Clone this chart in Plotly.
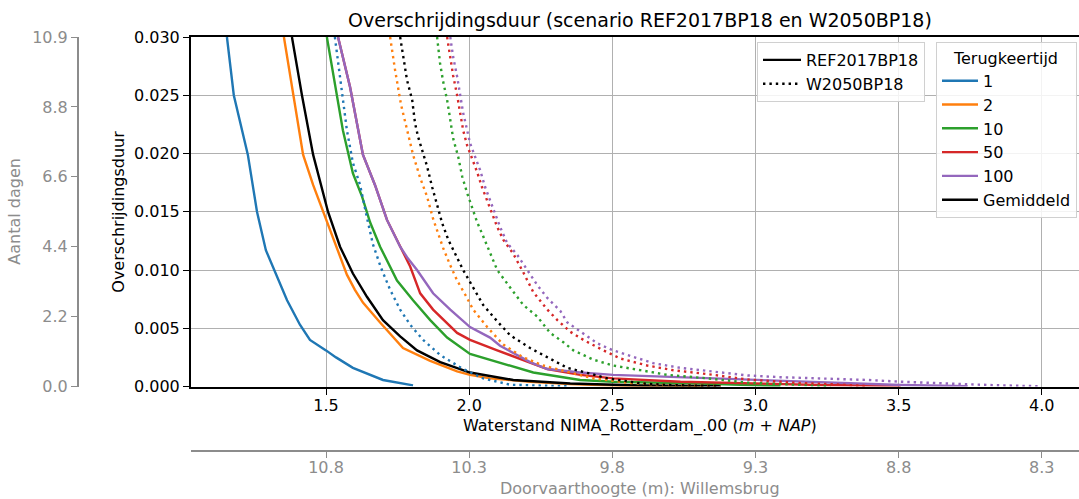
import plotly.graph_objects as go

# ---------------- data ----------------
# REF2017BP18 (solid lines)
ref_rp1_x = [1.154, 1.178, 1.227, 1.259, 1.290, 1.325, 1.364, 1.409, 1.444, 1.500, 1.535, 1.594, 1.699, 1.804]
ref_rp1_y = [0.0300, 0.0250, 0.0199, 0.0150, 0.0117, 0.0096, 0.0074, 0.0053, 0.0040, 0.0031, 0.0025, 0.0016, 0.00056, 0.0001]

ref_rp2_x = [1.353, 1.385, 1.420, 1.455, 1.490, 1.514, 1.549, 1.573, 1.601, 1.629, 1.689, 1.769, 1.864, 1.958, 2.003,
             2.073, 2.213, 2.353, 2.528, 2.808]
ref_rp2_y = [0.0300, 0.0250, 0.0199, 0.0173, 0.0150, 0.0135, 0.0113, 0.0096, 0.0083, 0.0072, 0.0055, 0.0033, 0.0022, 0.0013,
             0.0010, 0.0007, 0.0004, 0.0002, 0.00007, 0.00002]

ref_rp10_x = [1.503, 1.538, 1.559, 1.594, 1.626, 1.654, 1.689, 1.748, 1.804, 1.864, 1.923, 2.003, 2.098, 2.224, 2.388,
              2.503, 2.808, 3.087]
ref_rp10_y = [0.0300, 0.0249, 0.0220, 0.0183, 0.0163, 0.0141, 0.0120, 0.0091, 0.0074, 0.0057, 0.0042, 0.0028, 0.0021,
              0.0012, 0.00056, 0.00041, 0.00026, 0.00004]

ref_rp50_x = [1.542, 1.584, 1.629, 1.671, 1.713, 1.759, 1.794, 1.829, 1.874, 1.958, 2.003, 2.098, 2.189, 2.273, 2.388,
              2.503, 2.738, 2.972, 3.227, 3.507]
ref_rp50_y = [0.0300, 0.0257, 0.0199, 0.0173, 0.0143, 0.0120, 0.0103, 0.0080, 0.0066, 0.0046, 0.0040, 0.0031, 0.0023,
              0.0015, 0.0010, 0.0007, 0.00041, 0.00027, 0.00013, 0.00004]

ref_rp100_x = [1.542, 1.584, 1.629, 1.671, 1.713, 1.759, 1.783, 1.818, 1.874, 1.934, 2.003, 2.073, 2.108, 2.154, 2.213,
               2.273, 2.388, 2.503, 2.738, 2.972, 3.262, 3.507, 3.741]
ref_rp100_y = [0.0300, 0.0257, 0.0199, 0.0173, 0.0143, 0.0120, 0.0111, 0.0100, 0.0080, 0.0066, 0.0051, 0.0042, 0.0035,
               0.0029, 0.0021, 0.0015, 0.0012, 0.0010, 0.0008, 0.00056, 0.00034, 0.00013, 0.00002]

ref_gem_x = [1.381, 1.416, 1.455, 1.479, 1.507, 1.549, 1.594, 1.643, 1.699, 1.759, 1.818, 1.899, 2.003, 2.154, 2.353,
             2.598, 2.878]
ref_gem_y = [0.0300, 0.0250, 0.0199, 0.0177, 0.0150, 0.0120, 0.0097, 0.0077, 0.0057, 0.0043, 0.0031, 0.0021, 0.0012,
             0.00056, 0.00026, 0.00009, 0.00003]

# W2050BP18 (dotted lines)
w50_rp1_x = [1.531, 1.552, 1.573, 1.594, 1.619, 1.643, 1.664, 1.692, 1.724, 1.759, 1.794, 1.839, 1.899, 1.979, 2.049,
             2.143, 2.248, 2.353]
w50_rp1_y = [0.0300, 0.0259, 0.0220, 0.0192, 0.0173, 0.0145, 0.0122, 0.0102, 0.0083, 0.0066, 0.0053, 0.0040, 0.0027,
             0.0015, 0.0007, 0.00015, 0.00005, 0.00001]

w50_rp2_x = [1.724, 1.741, 1.762, 1.783, 1.804, 1.829, 1.853, 1.874, 1.909, 1.934, 1.958, 1.986, 2.014, 2.063, 2.119,
             2.189, 2.259, 2.336, 2.434, 2.563, 2.678, 2.878]
w50_rp2_y = [0.0300, 0.0272, 0.0242, 0.0220, 0.0199, 0.0179, 0.0163, 0.0144, 0.0119, 0.0104, 0.0091, 0.0079, 0.0066,
             0.0051, 0.0036, 0.0025, 0.0018, 0.0013, 0.0007, 0.0003, 0.00013, 0.00003]

w50_rp10_x = [1.888, 1.898, 1.909, 1.923, 1.934, 1.944, 1.962, 1.976, 1.993, 2.010, 2.028, 2.049, 2.073, 2.098, 2.143,
              2.189, 2.238, 2.283, 2.329, 2.364, 2.434, 2.503, 2.598, 2.692, 2.832, 2.972, 3.087, 3.262]
w50_rp10_y = [0.0300, 0.0278, 0.0262, 0.0246, 0.0229, 0.0213, 0.0197, 0.0180, 0.0166, 0.0154, 0.0141, 0.0129, 0.0115,
              0.0100, 0.0085, 0.0070, 0.0060, 0.0046, 0.0038, 0.0031, 0.0023, 0.0018, 0.0014, 0.0010, 0.0007, 0.00033,
              0.00021, 0.00004]

w50_rp50_x = [1.923, 1.934, 1.944, 1.958, 1.969, 1.979, 1.993, 2.010, 2.028, 2.045, 2.063, 2.080, 2.098, 2.119, 2.154,
              2.189, 2.224, 2.273, 2.308, 2.353, 2.399, 2.469, 2.528, 2.622, 2.713, 2.853, 2.972, 3.063, 3.157, 3.273,
              3.392]
w50_rp50_y = [0.0300, 0.0283, 0.0267, 0.0250, 0.0235, 0.0220, 0.0207, 0.0196, 0.0184, 0.0171, 0.0160, 0.0149, 0.0137,
              0.0126, 0.0114, 0.0098, 0.0081, 0.0066, 0.0057, 0.0047, 0.0040, 0.0031, 0.0024, 0.0018, 0.0014, 0.0010,
              0.0006, 0.00045, 0.0003, 0.00019, 0.00004]

w50_rp100_x = [1.934, 1.944, 1.958, 1.969, 1.979, 1.993, 2.003, 2.021, 2.038, 2.056, 2.073, 2.091, 2.108, 2.133, 2.168,
               2.203, 2.238, 2.273, 2.318, 2.343, 2.388, 2.448, 2.503, 2.563, 2.643, 2.738, 2.853, 2.972, 3.087, 3.217,
               3.392, 3.507, 3.622, 3.741, 3.857, 3.997]
w50_rp100_y = [0.0300, 0.0283, 0.0266, 0.0250, 0.0235, 0.0220, 0.0209, 0.0197, 0.0186, 0.0171, 0.0160, 0.0149, 0.0137,
               0.0123, 0.0113, 0.0100, 0.0087, 0.0076, 0.0065, 0.0055, 0.0047, 0.0037, 0.0031, 0.0026, 0.0020, 0.0016,
               0.0013, 0.00095, 0.0008, 0.0007, 0.00056, 0.00041, 0.00033, 0.00019, 0.0001, 0.00002]

w50_gem_x = [1.759, 1.769, 1.783, 1.801, 1.811, 1.822, 1.836, 1.853, 1.871, 1.888, 1.906, 1.927, 1.958, 1.979, 2.014,
             2.049, 2.098, 2.143, 2.213, 2.273, 2.343, 2.423, 2.483, 2.598, 2.692, 2.878]
w50_gem_y = [0.0300, 0.0284, 0.0263, 0.0246, 0.0226, 0.0214, 0.0203, 0.0189, 0.0171, 0.0156, 0.0140, 0.0126, 0.0111,
             0.0100, 0.0085, 0.0070, 0.0056, 0.0044, 0.0033, 0.0025, 0.0016, 0.0011, 0.0007, 0.00027, 0.00013, 0.00003]

series_names = ["1", "2", "10", "50", "100", "Gemiddeld"]
series_colors = ["#1f77b4", "#ff7f0e", "#2ca02c", "#d62728", "#9467bd", "#000000"]
ref_series = [(ref_rp1_x, ref_rp1_y), (ref_rp2_x, ref_rp2_y), (ref_rp10_x, ref_rp10_y),
              (ref_rp50_x, ref_rp50_y), (ref_rp100_x, ref_rp100_y), (ref_gem_x, ref_gem_y)]
w50_series = [(w50_rp1_x, w50_rp1_y), (w50_rp2_x, w50_rp2_y), (w50_rp10_x, w50_rp10_y),
              (w50_rp50_x, w50_rp50_y), (w50_rp100_x, w50_rp100_y), (w50_gem_x, w50_gem_y)]
scenario_names = ["REF2017BP18", "W2050BP18"]

x_ticks = [1.5, 2.0, 2.5, 3.0, 3.5, 4.0]
height_ticktext = ["10.8", "10.3", "9.8", "9.3", "8.8", "8.3"]
y_ticks = [0.0, 0.005, 0.010, 0.015, 0.020, 0.025, 0.030]
days_tickvals = [0.0, 0.006, 0.012, 0.018, 0.024, 0.030]
days_ticktext = ["0.0", "2.2", "4.4", "6.6", "8.8", "10.9"]

# ---------------- figure ----------------
W, H = 1079, 499
FONT = "DejaVu Sans"
GRAY = "#8c8c8c"
LW = 2.4
DOT = "2.4px,4px"

x_range = [1.0285, 4.130]
y_range = [0.0, 0.030]

fig = go.Figure()

# scenario legend entries (legend 1)
fig.add_trace(go.Scatter(x=[None], y=[None], mode="lines", name=scenario_names[0],
                         line=dict(color="black", width=LW), legend="legend"))
fig.add_trace(go.Scatter(x=[None], y=[None], mode="lines", name=scenario_names[1],
                         line=dict(color="black", width=LW, dash=DOT), legend="legend"))

for (xs, ys), nm, col in zip(ref_series, series_names, series_colors):
    fig.add_trace(go.Scatter(x=xs, y=ys, mode="lines", name=nm, legend="legend2",
                             line=dict(color=col, width=LW)))
for (xs, ys), nm, col in zip(w50_series, series_names, series_colors):
    fig.add_trace(go.Scatter(x=xs, y=ys, mode="lines", name=nm, showlegend=False,
                             line=dict(color=col, width=LW, dash=DOT)))

# helper traces so the secondary axes are drawn
fig.add_trace(go.Scatter(x=[None], y=[None], xaxis="x", yaxis="y2", showlegend=False, hoverinfo="skip"))
fig.add_trace(go.Scatter(x=[None], y=[None], xaxis="x2", yaxis="y", showlegend=False, hoverinfo="skip"))

x0 = 191 / W
y0 = (H - 386.5) / H
y1 = (H - 37) / H

fig.update_layout(
    width=W, height=H,
    margin=dict(l=0, r=0, t=0, b=0, pad=0, autoexpand=False),
    paper_bgcolor="white", plot_bgcolor="white",
    font=dict(family=FONT, size=16, color="black"),
    xaxis=dict(domain=[x0, 1.0], range=x_range, tickvals=x_ticks, ticktext=[f"{v:.1f}" for v in x_ticks],
               showgrid=True, gridcolor="#b0b0b0", gridwidth=1.2, zeroline=False,
               showline=True, linecolor="black", linewidth=2, mirror=True,
               ticks="outside", ticklen=6, tickwidth=1.2, tickcolor="black", ticklabelstandoff=-3,
               tickfont=dict(size=16, color="black"), anchor="y", automargin=False),
    yaxis=dict(domain=[y0, y1], range=y_range, tickvals=y_ticks, tickformat=".3f",
               showgrid=True, gridcolor="#b0b0b0", gridwidth=1.2, zeroline=False,
               showline=True, linecolor="black", linewidth=2,
               ticks="outside", ticklen=6, tickwidth=1.2, tickcolor="black",
               tickfont=dict(size=16, color="black"), anchor="x", automargin=False),
    yaxis2=dict(overlaying="y", anchor="free", position=78 / W, side="left", range=y_range,
                tickvals=days_tickvals, ticktext=days_ticktext, showgrid=False, zeroline=False,
                showline=True, linecolor=GRAY, linewidth=2, ticks="outside", ticklen=6, tickwidth=1.2,
                tickcolor=GRAY, tickfont=dict(size=16, color=GRAY), automargin=False),
    xaxis2=dict(overlaying="x", anchor="free", position=(H - 451) / H, side="bottom", range=x_range,
                tickvals=x_ticks, ticktext=height_ticktext, showgrid=False, zeroline=False,
                showline=True, linecolor=GRAY, linewidth=2, ticks="outside", ticklen=6, tickwidth=1.2,
                tickcolor=GRAY, tickfont=dict(size=16, color=GRAY), ticklabelstandoff=-4,
                automargin=False),
    legend=dict(x=757 / W, y=(H - 42) / H, xanchor="left", yanchor="top",
                bgcolor="rgba(255,255,255,0.85)", bordercolor="#d0d0d0", borderwidth=1,
                font=dict(size=16, family=FONT), tracegroupgap=0, itemwidth=38),
    legend2=dict(x=936 / W, y=(H - 42) / H, xanchor="left", yanchor="top",
                 bgcolor="rgba(255,255,255,0.85)", bordercolor="#d0d0d0", borderwidth=1,
                 font=dict(size=16, family=FONT), tracegroupgap=0, itemwidth=36,
                 title=dict(text="Terugkeertijd", side="top center", font=dict(size=16))),
    showlegend=True,
)

anns = [
    dict(text="Overschrijdingsduur (scenario REF2017BP18 en W2050BP18)", x=640 / W, y=(H - 20) / H,
         font=dict(size=19, color="black")),
    dict(text="Waterstand NIMA_Rotterdam_.00 (<i>m</i> + <i>NAP</i>)", x=640 / W, y=(H - 426) / H,
         font=dict(size=16, color="black")),
    dict(text="Overschrijdingsduur", x=119 / W, y=(H - 211.7) / H, textangle=-90,
         font=dict(size=16, color="black")),
    dict(text="Aantal dagen", x=15 / W, y=(H - 211.7) / H, textangle=-90,
         font=dict(size=16, color=GRAY)),
    dict(text="Doorvaarthoogte (m): Willemsbrug", x=640 / W, y=(H - 488.5) / H,
         font=dict(size=16, color=GRAY)),
]
for a in anns:
    fig.add_annotation(xref="paper", yref="paper", xanchor="center", yanchor="middle",
                       showarrow=False, font_family=FONT, borderpad=0, **a)

fig.write_html("out.html")
